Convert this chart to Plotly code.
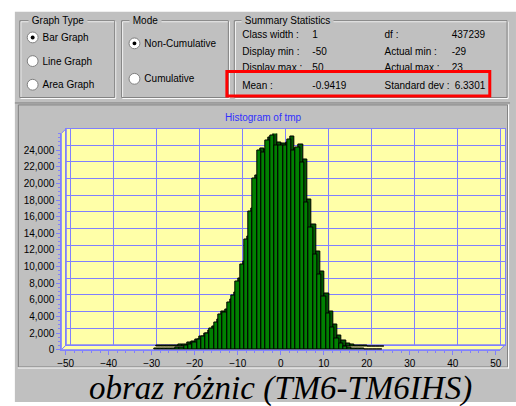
import plotly.graph_objects as go

W, H = 516, 406

# Histogram of the TM6 - TM6IHS difference image (class width 1)
bins = list(range(-29, 24))
counts = [100, 150, 150, 200, 200, 250, 300, 500, 600, 900,
          1200, 1600, 2000, 2500, 3300, 4200, 4500, 5700, 6500, 8200,
          10200, 13300, 16600, 20600, 23900, 23700, 25200, 25800, 24600,
          24500, 24600, 25300, 23900, 24300, 22500, 17700, 14700, 11500,
          9000, 6400, 4300, 2700, 1400, 700, 400, 250, 200, 150, 100,
          80, 60, 40, 30]
x_ticks = list(range(-50, 51, 10))
y_ticks = list(range(0, 24001, 2000))
wall_y = list(range(0, 26001, 2000))

graph_types = ["Bar Graph", "Line Graph", "Area Graph"]
modes = ["Non-Cumulative", "Cumulative"]
stat_labels_l = ["Class width :", "Display min :", "Display max :", "Mean :"]
stat_values_l = ["1", "-50", "50", "-0.9419"]
stat_labels_r = ["df :", "Actual min :", "Actual max :", "Standard dev :"]
stat_values_r = ["437239", "-29", "23", "6.3301"]

GRAY = "#c0c0c0"
DARK = "#808080"
BLUE = "#8080ff"
YELLOW = "#ffffa8"
UI_FONT = "Liberation Sans"

X0, X1, YR = -51, 51, 26000
FRONT = (58, 502, 355, 135.5)      # left, right, bottom, top (px)
DEPTH = 5                          # wall offset in px
BAR_DEPTH_X = 3 * (X1 - X0) / (FRONT[1] - FRONT[0])
BAR_DEPTH_Y = 3 * YR / (FRONT[2] - FRONT[3])


def px(x):
    return x / W


def py(y):
    return 1 - y / H


shapes = []
annotations = []


def rect(x0, y0, x1, y1, line=None, fill=None, width=1, layer="below"):
    shapes.append(dict(type="rect", xref="paper", yref="paper",
                       x0=px(x0), x1=px(x1), y0=py(y1), y1=py(y0),
                       line=dict(color=line or "rgba(0,0,0,0)", width=width if line else 0),
                       fillcolor=fill or "rgba(0,0,0,0)", layer=layer))


def seg(x0, y0, x1, y1, color, width=1, layer="below"):
    shapes.append(dict(type="line", xref="paper", yref="paper",
                       x0=px(x0), x1=px(x1), y0=py(y0), y1=py(y1),
                       line=dict(color=color, width=width), layer=layer))


def poly(points, fill, line=None):
    d = "M " + " L ".join(f"{px(a):.5f},{py(b):.5f}" for a, b in points) + " Z"
    shapes.append(dict(type="path", xref="paper", yref="paper", path=d,
                       fillcolor=fill, line=dict(color=line or "rgba(0,0,0,0)", width=1 if line else 0),
                       layer="below"))


def circle(cx, cy, r, fill, line=None):
    shapes.append(dict(type="circle", xref="paper", yref="paper",
                       x0=px(cx - r), x1=px(cx + r), y0=py(cy + r), y1=py(cy - r),
                       fillcolor=fill, line=dict(color=line or "rgba(0,0,0,0)", width=1 if line else 0),
                       layer="below"))


def label(x, y, s, size=10, color="black", xanchor="left", family=UI_FONT, bg=None):
    annotations.append(dict(x=px(x), y=py(y), xref="paper", yref="paper", text=s,
                            showarrow=False, xanchor=xanchor, yanchor="middle",
                            font=dict(family=family, size=size, color=color),
                            bgcolor=bg, borderpad=0))


def group_box(x0, y0, x1, y1, title, tx):
    rect(x0 + 1, y0 + 1, x1 + 1, y1 + 1, line="white")
    rect(x0, y0, x1, y1, line=DARK)
    label(tx, y0, " " + title + " ", bg=GRAY)


def radio(cx, cy, on):
    circle(cx, cy, 5.5, "white", DARK)
    if on:
        circle(cx, cy, 2, "black")


# window background
rect(11, 12, W + 2, H + 2, fill=GRAY)

# option groups
group_box(16, 21, 112, 99, "Graph Type", 24)
group_box(119, 21, 227, 99, "Mode", 126)
group_box(233, 21, 509, 99, "Summary Statistics", 240)

text_x, text_y, text_s = [], [], []
for i, name in enumerate(graph_types):
    radio(29, 38 + 24 * i, i == 0)
    text_x.append(39); text_y.append(39 + 24 * i); text_s.append(name)
for i, name in enumerate(modes):
    radio(132, 44 + 36 * i, i == 0)
    text_x.append(142); text_y.append(45 + 36 * i); text_s.append(name)
row_y = [36, 53, 70, 88]
col_x = [(241, 312, 385, 453)] * 3 + [(241, 312, 385, 456)]
for i in range(4):
    c = col_x[i]
    for xx, s in ((c[0], stat_labels_l[i]), (c[1], stat_values_l[i]),
                  (c[2], stat_labels_r[i]), (c[3], stat_values_r[i])):
        text_x.append(xx); text_y.append(row_y[i]); text_s.append(s)

# chart panel (sunken)
seg(11, 104.5, 512, 104.5, DARK)
rect(14.5, 106.5, 509.5, 372.5, line=DARK)
seg(14, 373.5, 511, 373.5, "white")
seg(510.5, 106, 510.5, 374, "white")

# 3D chart box: back wall, floor, left wall
fl, fr, fb, ft = FRONT
rect(fl + DEPTH, ft - DEPTH, fr + DEPTH, fb - DEPTH, fill=YELLOW)
poly([(fl, fb), (fr, fb), (fr + DEPTH, fb - DEPTH), (fl + DEPTH, fb - DEPTH)], YELLOW, BLUE)
poly([(fl, ft), (fl + DEPTH, ft - DEPTH), (fl + DEPTH, fb - DEPTH), (fl, fb)], YELLOW, BLUE)
seg(fr, fb, fr + DEPTH, fb - DEPTH, BLUE)

label(262.5, 119, "Histogram of tmp", size=10, color="#3030ff", xanchor="center")
label(279.5, 394, "<i>obraz różnic (TM6-TM6IHS)</i>", size=33, color="black",
      xanchor="center", family="Liberation Serif")

# highlight around mean / standard deviation
rect(225.5, 72.5, 491.5, 97.5, line="#ff0000", width=3, layer="above")

fig = go.Figure()

# empty trace so the back-wall grid axes get drawn
fig.add_trace(go.Scatter(x=[None], y=[None], xaxis="x", yaxis="y",
                         mode="markers", hoverinfo="skip"))

# bar depth (top cap and side), then the front faces
fig.add_trace(go.Bar(x=bins, y=counts, base=BAR_DEPTH_Y, width=1, offset=-0.5 + BAR_DEPTH_X,
                     marker=dict(color="#005a00", line=dict(color="black", width=1)),
                     xaxis="x2", yaxis="y2", hoverinfo="skip"))
fig.add_trace(go.Bar(x=bins, y=counts, width=1, offset=-0.5,
                     marker=dict(color="#008000", line=dict(color="black", width=1)),
                     xaxis="x2", yaxis="y2"))

# dialog texts
fig.add_trace(go.Scatter(x=text_x, y=text_y, text=text_s, mode="text",
                         textposition="middle right",
                         textfont=dict(family=UI_FONT, size=10, color="black"),
                         xaxis="x3", yaxis="y3", hoverinfo="skip"))

tick_font = dict(family=UI_FONT, size=10, color="black")
fig.update_layout(
    width=W, height=H, margin=dict(l=0, r=0, t=0, b=0, pad=0),
    paper_bgcolor="white", plot_bgcolor="rgba(0,0,0,0)",
    showlegend=False, barmode="overlay", bargap=0,
    shapes=shapes, annotations=annotations,
    # back wall grid
    xaxis=dict(domain=[px(fl + DEPTH), px(fr + DEPTH)], range=[X0, X1], anchor="y",
               tickmode="array", tickvals=x_ticks, showticklabels=False, ticks="",
               showgrid=True, gridcolor=BLUE, gridwidth=1, zeroline=False,
               showline=True, linecolor=BLUE, mirror=True),
    yaxis=dict(domain=[py(fb - DEPTH), py(ft - DEPTH)], range=[0, YR], anchor="x",
               tickmode="array", tickvals=wall_y, showticklabels=False, ticks="",
               showgrid=True, gridcolor=BLUE, gridwidth=1, zeroline=False,
               showline=True, linecolor=BLUE, mirror=True),
    # front axes with labels
    xaxis2=dict(domain=[px(fl), px(fr)], range=[X0, X1], anchor="y2",
                tickmode="array", tickvals=x_ticks, ticks="outside", ticklen=4,
                tickcolor=BLUE, showline=True, linecolor=BLUE, showgrid=False,
                zeroline=False, tickfont=tick_font,
                minor=dict(tickmode="linear", tick0=0, dtick=2, ticks="outside",
                           ticklen=2, tickcolor=BLUE, showgrid=False)),
    yaxis2=dict(domain=[py(fb), py(ft)], range=[0, YR], anchor="x2",
                tickmode="array", tickvals=y_ticks, tickformat=",d",
                ticks="outside", ticklen=4, tickcolor=BLUE, showline=True,
                linecolor=BLUE, showgrid=False, zeroline=False, tickfont=tick_font,
                minor=dict(tickmode="linear", tick0=0, dtick=500, ticks="outside",
                           ticklen=2, tickcolor=BLUE, showgrid=False)),
    # pixel overlay for dialog text
    xaxis3=dict(domain=[0, 1], range=[0, W], anchor="y3", visible=False),
    yaxis3=dict(domain=[0, 1], range=[H, 0], anchor="x3", visible=False),
)

fig.write_html("out.html")
